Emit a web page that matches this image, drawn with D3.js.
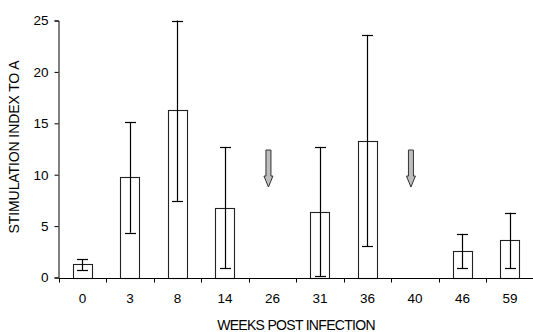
<!DOCTYPE html>
<html><head><meta charset="utf-8">
<script src="https://cdn.jsdelivr.net/npm/d3@7"></script>
<style>body{margin:0;background:#fff}svg{display:block}text{font-family:"Liberation Sans",Arial,sans-serif;fill:#000}</style>
</head><body><svg id="c" width="533" height="332"></svg>
<script>
const categories = ["0","3","8","14","26","31","36","40","46","59"];
const means = [1.3, 9.75, 16.3, 6.75, null, 6.4, 13.3, null, 2.6, 3.6];
const errLow = [0.7, 4.35, 7.45, 0.9, null, 0.1, 3.05, null, 0.9, 0.9];
const errHigh = [1.8, 15.1, 25, 12.7, null, 12.7, 23.6, null, 4.25, 6.3];
const arrowCats = ["26","40"];
const arrowTop = 12.4, arrowTip = 8.8;
const yTicks = [0,5,10,15,20,25];

const svg = d3.select("#c");
const x = d3.scaleBand().domain(categories).range([58.7, 533.7]).paddingInner(0).paddingOuter(0);
const y = d3.scaleLinear().domain([0,25]).range([277.5, 20.5]);
const bw = x.bandwidth()*0.4;

// bars
const data = categories.map((c,i)=>({c, m:means[i], lo:errLow[i], hi:errHigh[i]})).filter(d=>d.m!=null);
svg.append("g").selectAll("rect").data(data).join("rect")
  .attr("x", d=>Math.round(x(d.c)+x.bandwidth()/2-bw/2)+0.5)
  .attr("y", d=>Math.round(y(d.m))+0.5)
  .attr("width", Math.round(bw))
  .attr("height", d=>Math.round(y(0))-Math.round(y(d.m)))
  .attr("fill","#fff").attr("stroke","#222").attr("stroke-width",1.1);

// error bars
const eg = svg.append("g").attr("stroke","#000").attr("stroke-width",1.2);
data.forEach(d=>{
  const cx = Math.round(x(d.c)+x.bandwidth()/2)+0.5;
  eg.append("line").attr("x1",cx).attr("x2",cx).attr("y1",y(d.lo)).attr("y2",y(d.hi));
  [d.lo,d.hi].forEach(v=>eg.append("line").attr("x1",cx-5.5).attr("x2",cx+5.5).attr("y1",Math.round(y(v))+0.5).attr("y2",Math.round(y(v))+0.5));
});

// arrows
arrowCats.forEach(c=>{
  const cx = x(c)+x.bandwidth()/2-4;
  const t = y(arrowTop), tip = y(arrowTip), hb = tip-11;
  const p = d3.path();
  p.moveTo(cx-2.5,t); p.lineTo(cx+2.5,t); p.lineTo(cx+2.5,hb); p.lineTo(cx+4.5,hb);
  p.lineTo(cx,tip); p.lineTo(cx-4.5,hb); p.lineTo(cx-2.5,hb); p.closePath();
  svg.append("path").attr("d",p.toString()).attr("fill","#bdbdbd").attr("stroke","#333").attr("stroke-width",1);
});

// y axis
const ya = svg.append("g").attr("transform","translate(58.5,0)")
  .call(d3.axisLeft(y).tickValues(yTicks).tickSize(4).tickPadding(6));
ya.select(".domain").attr("stroke","#000");
ya.selectAll("text").attr("font-size",13.5).attr("font-family","Liberation Sans, Arial");

// x axis
const xg = svg.append("g").attr("transform",`translate(0,${Math.round(y(0))+0.5})`);
xg.append("line").attr("x1",58.5).attr("x2",533).attr("stroke","#000");
xg.selectAll(".tk").data(d3.range(categories.length)).join("line")
  .attr("x1",i=>Math.round(x(categories[i]))+0.5).attr("x2",i=>Math.round(x(categories[i]))+0.5)
  .attr("y1",0).attr("y2",4).attr("stroke","#000");
xg.selectAll("text").data(categories).join("text")
  .attr("x",d=>x(d)+x.bandwidth()/2).attr("y",24.5).attr("text-anchor","middle")
  .attr("font-size",13.5).text(d=>d);

// titles
svg.append("text").attr("x",296).attr("y",330).attr("text-anchor","middle").attr("font-size",14)
  .attr("letter-spacing",-0.7).text("WEEKS POST INFECTION");
svg.append("text").attr("transform","translate(19,147) rotate(-90)").attr("text-anchor","middle").attr("font-size",14)
  .attr("letter-spacing",-0.1).text("STIMULATION INDEX TO A");
</script></body></html>
